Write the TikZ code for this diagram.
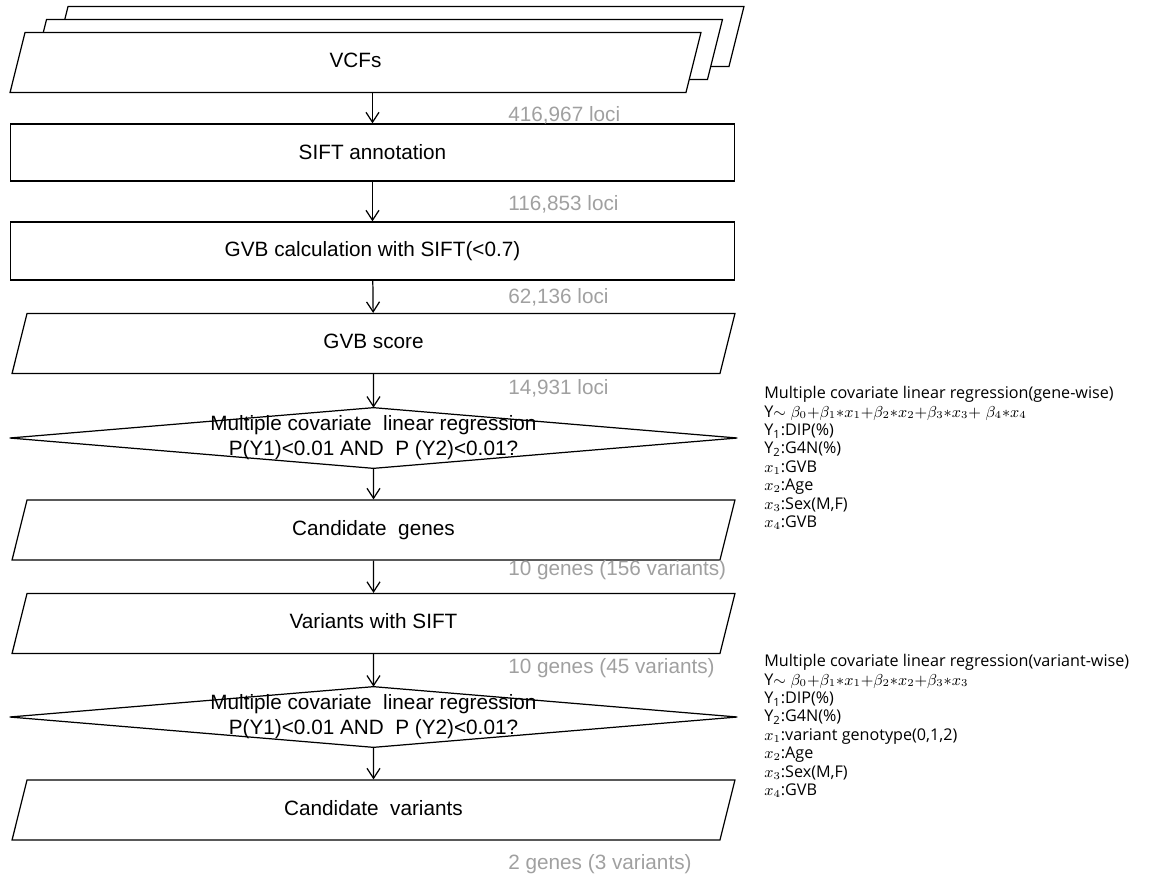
\documentclass[tikz,border=0pt]{standalone}
\usepackage{fontspec}
\setmainfont{Liberation Sans}
\newfontfamily\notefont{Open Sans}
\usetikzlibrary{arrows.meta,positioning,shapes.geometric}
\definecolor{locigray}{RGB}{160,160,160}

\begin{document}
\begin{tikzpicture}[
  x=0.02cm, y=-0.02cm,
  every node/.style={font=\fontsize{11.8}{13.7}\selectfont},
  stepbox/.style={draw, line width=0.7pt, fill=white, minimum width=14.48cm,
    minimum height=1.14cm, inner sep=0pt},
  datab/.style={trapezium, trapezium left angle=76, trapezium right angle=104,
    trapezium stretches body, draw, line width=0.7pt, fill=white,
    text height=8.5pt, text depth=2.5pt, inner ysep=11.55pt, inner xsep=0pt,
    minimum width=14.46cm},
  decide/.style={minimum width=14.54cm, minimum height=1.2cm, align=center, inner sep=0pt,
    font=\fontsize{11.8}{14.2}\selectfont},
  loci/.style={anchor=west, text=locigray, inner sep=0pt},
  note/.style={anchor=north west, align=left, inner sep=0pt,
    font=\notefont\fontsize{9.2}{10.5}\selectfont},
  arr/.style={-{Straight Barb[length=2mm, width=2.6mm]}, line width=0.7pt}
]
  \useasboundingbox (0,0) rectangle (1157,873);

  % stacked VCF files
  \node[datab, minimum width=13.82cm] (vcf3) at (398.5,36.5) {};
  \node[datab, minimum width=13.82cm] (vcf2) at (377,49.5) {};
  \node[datab, minimum width=13.82cm] (vcf) at (355.5,62.5) {VCFs};

  \node[stepbox] (sift) at (372.5,152.5) {SIFT annotation};
  \node[stepbox, minimum height=1.16cm] (gvbcalc) at (372.5,251) {GVB calculation with SIFT(<0.7)};
  \node[datab] (gvbscore) at (373.5,343.5) {GVB score};
  \node[decide] (mlr1) at (373.5,438)
    {Multiple covariate~ linear regression\\P(Y1)<0.01 AND~ P (Y2)<0.01?};
  \node[datab] (cgenes) at (373.5,530) {Candidate~ genes};
  \node[datab] (vsift) at (373.5,623.5) {Variants with SIFT};
  \node[decide] (mlr2) at (373.5,717)
    {Multiple covariate~ linear regression\\P(Y1)<0.01 AND~ P (Y2)<0.01?};
  \node[datab] (cvars) at (373.5,810) {Candidate~ variants};

  \foreach \d in {mlr1,mlr2}
    \draw[line width=0.7pt] (\d.west) -- (\d.north) -- (\d.east) -- (\d.south) -- cycle;

  % flow
  \draw[arr] (sift.north |- vcf.south) -- (sift.north);
  \draw[arr] (sift) -- (gvbcalc);
  \draw[arr] (gvbcalc) -- (gvbscore);
  \draw[arr] (gvbscore) -- (mlr1.north);
  \draw[arr] (mlr1.south) -- (cgenes);
  \draw[arr] (cgenes) -- (vsift);
  \draw[arr] (vsift) -- (mlr2.north);
  \draw[arr] (mlr2.south) -- (cvars);

  % counts left after each step
  \node[loci] (c1) at (508,115) {416,967 loci};
  \node[loci] (c2) at (508,204) {116,853 loci};
  \node[loci] (c3) at (508,297) {62,136 loci};
  \node[loci] (c4) at (508,388) {14,931 loci};
  \node[loci] (c5) at (508,570) {10 genes (156 variants)};
  \node[loci] (c6) at (508,668) {10 genes (45 variants)};
  \node[loci] (c7) at (508,864) {2 genes (3 variants)};

  % model notes
  \node[note] (genewise) at (764,386)
    {Multiple covariate linear regression(gene-wise)\\
     Y$\sim\beta_0{+}\beta_1{\ast}x_1{+}\beta_2{\ast}x_2{+}\beta_3{\ast}x_3{+}\;\beta_4{\ast}x_4$\\
     Y\textsubscript{1}:DIP(\%)\\
     Y\textsubscript{2}:G4N(\%)\\
     $x_1$:GVB\\
     $x_2$:Age\\
     $x_3$:Sex(M,F)\\
     $x_4$:GVB};
  \node[note] (varwise) at (764,654)
    {Multiple covariate linear regression(variant-wise)\\
     Y$\sim\beta_0{+}\beta_1{\ast}x_1{+}\beta_2{\ast}x_2{+}\beta_3{\ast}x_3$\\
     Y\textsubscript{1}:DIP(\%)\\
     Y\textsubscript{2}:G4N(\%)\\
     $x_1$:variant genotype(0,1,2)\\
     $x_2$:Age\\
     $x_3$:Sex(M,F)\\
     $x_4$:GVB};
\end{tikzpicture}
\end{document}
